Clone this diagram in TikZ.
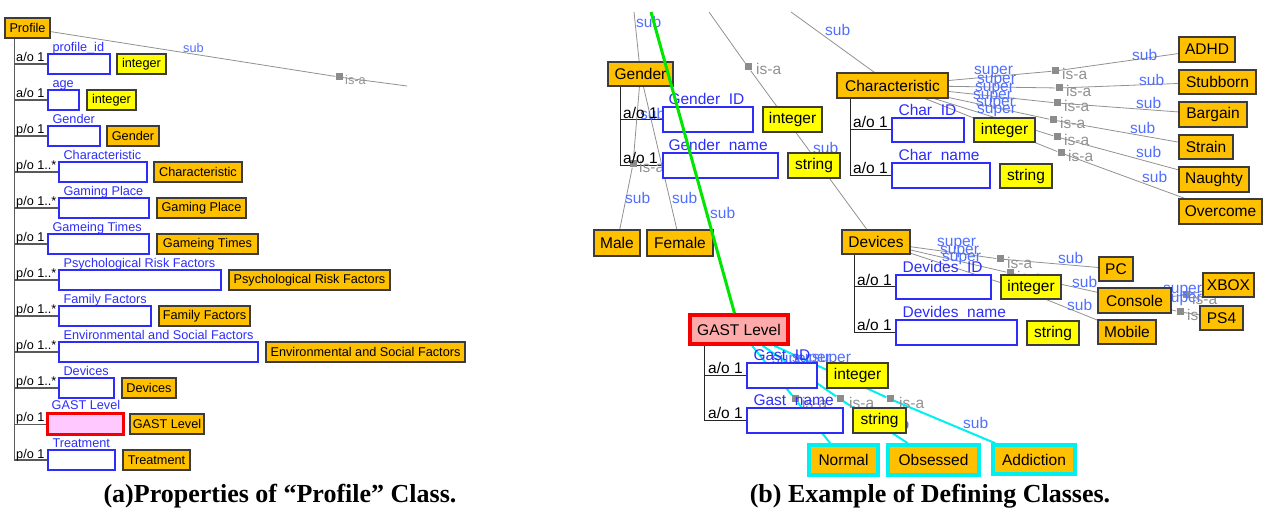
\documentclass[tikz,border=0pt]{standalone}
\usepackage{fontspec}
\setmainfont{Liberation Sans}
\newfontfamily\capfont{Liberation Serif}
\usetikzlibrary{backgrounds}
\definecolor{clsfill}{RGB}{255,192,0}
\definecolor{clsline}{RGB}{60,60,60}
\definecolor{typefill}{RGB}{255,255,0}
\definecolor{propblue}{RGB}{45,45,250}
\definecolor{relblue}{RGB}{80,110,255}
\definecolor{relgray}{RGB}{145,145,145}
\definecolor{gastpink}{RGB}{255,200,255}
\definecolor{gastrose}{RGB}{255,170,170}
\definecolor{selred}{RGB}{245,0,0}
\definecolor{selcyan}{RGB}{0,240,240}
\definecolor{selgreen}{RGB}{0,230,0}
\def\bx[#1](#2)(#3,#4,#5,#6)#7{\node[#1,minimum width=#5-#3,minimum height=#6-#4] (#2) at ({(#3+#5)/2},{(#4+#6)/2}) {#7};}

\begin{document}
\begin{tikzpicture}[x=1pt,y=-1pt,
    cls/.style={draw=clsline,fill=clsfill,line width=1.2pt,inner sep=0pt},
    dtype/.style={draw=clsline,fill=typefill,line width=1.2pt,inner sep=0pt},
    prop/.style={draw=propblue,fill=white,line width=1.3pt,inner sep=0pt},
    pinksel/.style={draw=selred,fill=gastpink,line width=3pt,inner sep=0pt},
    rosesel/.style={draw=selred,fill=gastrose,line width=3.5pt,inner sep=0pt},
    cyansel/.style={draw=selcyan,fill=clsfill,line width=3.5pt,inner sep=0pt},
    plbl/.style={text=propblue,anchor=base west,inner sep=0pt},
    card/.style={anchor=base west,inner sep=0pt},
    tree/.style={draw=black!65,line width=1.5pt},
    rtree/.style={draw=black!85,line width=1pt},
    rel/.style={draw=relgray,line width=0.8pt},
    cyanrel/.style={draw=selcyan,line width=2pt},
    isasq/.style={fill=black!45,minimum size=7pt,inner sep=0pt},
    sublbl/.style={text=relblue,anchor=west,inner sep=0pt},
    isalbl/.style={text=relgray,anchor=west,inner sep=0pt},
    caption/.style={font=\capfont\bfseries\fontsize{26}{30}\selectfont}]
\useasboundingbox (0,0) rectangle (1264,510);

%%%%% (a) properties of the profile class %%%%%
\begin{scope}[font=\fontsize{12.7}{15}\selectfont]
\bx[cls](profile)(5,18,50,38){Profile}
\coordinate (ptree) at ([xshift=10pt]profile.south west);
\coordinate (pout) at (407,86);

\bx[prop](pid)(48,54,110,74){}
\bx[dtype](pidt)(117,54,166,74){integer}
\bx[prop](page)(48,90,79,110){}
\bx[dtype](paget)(87,90,136,110){integer}
\bx[prop](pgen)(48,126,100,146){}
\bx[cls](pgent)(107,126,159,146){Gender}
\bx[prop](pchar)(59,162,147,182){}
\bx[cls](pchart)(154,162,242,182){Characteristic}
\bx[prop](pplace)(59,198,149,218){}
\bx[cls](pplacet)(157,198,246,218){Gaming Place}
\bx[prop](ptimes)(48,234,149,254){}
\bx[cls](ptimest)(157,234,258,254){Gameing Times}
\bx[prop](ppsy)(59,270,221,290){}
\bx[cls](ppsyt)(229,270,390,290){Psychological Risk Factors}
\bx[prop](pfam)(59,306,151,326){}
\bx[cls](pfamt)(159,306,250,326){Family Factors}
\bx[prop](penv)(59,342,258,362){}
\bx[cls](penvt)(266,342,465,362){Environmental and Social Factors}
\bx[prop](pdev)(59,378,114,398){}
\bx[cls](pdevt)(122,378,176,398){Devices}
\bx[pinksel](pgast)(47,414,123,435){}
\bx[cls](pgastt)(130,414,204,434){GAST Level}
\bx[prop](ptreat)(48,450,115,470){}
\bx[cls](ptreatt)(123,450,190,470){Treatment}

\node[plbl] (pidl) at ([xshift=5pt,yshift=2pt]pid.north west) {profile\_id};
\node[plbl] (pagel) at ([xshift=5pt,yshift=2pt]page.north west) {age};
\node[plbl] (pgenl) at ([xshift=5pt,yshift=2pt]pgen.north west) {Gender};
\node[plbl] (pcharl) at ([xshift=5pt,yshift=2pt]pchar.north west) {Characteristic};
\node[plbl] (pplacel) at ([xshift=5pt,yshift=2pt]pplace.north west) {Gaming Place};
\node[plbl] (ptimesl) at ([xshift=5pt,yshift=2pt]ptimes.north west) {Gameing Times};
\node[plbl] (ppsyl) at ([xshift=5pt,yshift=2pt]ppsy.north west) {Psychological Risk Factors};
\node[plbl] (pfaml) at ([xshift=5pt,yshift=2pt]pfam.north west) {Family Factors};
\node[plbl] (penvl) at ([xshift=5pt,yshift=2pt]penv.north west) {Environmental and Social Factors};
\node[plbl] (pdevl) at ([xshift=5pt,yshift=2pt]pdev.north west) {Devices};
\node[plbl] (pgastl) at ([xshift=6pt,yshift=3pt]pgast.north west) {GAST Level};
\node[plbl] (ptreatl) at ([xshift=5pt,yshift=2pt]ptreat.north west) {Treatment};

\node[card] (pidc) at (16,62) {a/o 1};
\node[card] (pagec) at (16,98) {a/o 1};
\node[card] (pgenc) at (16,134) {p/o 1};
\node[card] (pcharc) at (16,170) {p/o 1..*};
\node[card] (pplacec) at (16,206) {p/o 1..*};
\node[card] (ptimesc) at (16,242) {p/o 1};
\node[card] (ppsyc) at (16,278) {p/o 1..*};
\node[card] (pfamc) at (16,314) {p/o 1..*};
\node[card] (penvc) at (16,350) {p/o 1..*};
\node[card] (pdevc) at (16,386) {p/o 1..*};
\node[card] (pgastc) at (16,422) {p/o 1};
\node[card] (ptreatc) at (16,458) {p/o 1};

\begin{scope}[on background layer]
\draw[tree] (ptree) -- (ptree |- ptreat.west)
  (ptree |- pid.west) -- (pid.west) (ptree |- page.west) -- (page.west)
  (ptree |- pgen.west) -- (pgen.west) (ptree |- pchar.west) -- (pchar.west)
  (ptree |- pplace.west) -- (pplace.west) (ptree |- ptimes.west) -- (ptimes.west)
  (ptree |- ppsy.west) -- (ppsy.west) (ptree |- pfam.west) -- (pfam.west)
  (ptree |- penv.west) -- (penv.west) (ptree |- pdev.west) -- (pdev.west)
  (ptree |- pgast.west) -- (pgast.west) (ptree |- ptreat.west) -- (ptreat.west);
\node[isasq] (psq) at (339,77) {};
\draw[rel] (profile) -- (psq) -- (pout);
\node[sublbl] (psub) at (183,48) {sub};
\node[isalbl] (pisa) at (345,80) {is-a};
\end{scope}
\end{scope}

\node[caption] (capa) at (280,496) {(a)Properties of “Profile” Class.};

%%%%% (b) defining classes %%%%%
\begin{scope}[font=\fontsize{15.5}{18}\selectfont]
\coordinate (gsup) at (634,12);
\coordinate (greentop) at (651,12);
\coordinate (dsup) at (709,12);
\coordinate (csup) at (791,12);

% gender
\bx[cls](gender)(608,62,673,86){Gender}
\bx[prop](gid)(663,107,753,132){}
\bx[dtype](gidt)(763,107,822,132){integer}
\bx[prop](gname)(663,153,778,178){}
\bx[dtype](gnamet)(788,153,840,178){string}
\bx[cls](male)(594,230,640,256){Male}
\bx[cls](female)(647,230,713,256){Female}
\node[plbl] (gidl) at ([xshift=6pt,yshift=2pt]gid.north west) {Gender\_ID};
\node[plbl] (gnamel) at ([xshift=6pt,yshift=2pt]gname.north west) {Gender\_name};
\coordinate (gtree) at ([xshift=13pt]gender.south west);

% characteristic
\bx[cls](char)(837,73,948,98){Characteristic}
\bx[prop](cid)(892,118,964,142){}
\bx[dtype](cidt)(974,118,1035,142){integer}
\bx[prop](cname)(892,163,990,188){}
\bx[dtype](cnamet)(1000,164,1052,188){string}
\node[plbl] (cidl) at ([xshift=7pt,yshift=2pt]cid.north west) {Char\_ID};
\node[plbl] (cnamel) at ([xshift=7pt,yshift=2pt]cname.north west) {Char\_name};
\coordinate (ctree) at ([xshift=14pt]char.south west);
\bx[cls](adhd)(1179,37,1235,62){ADHD}
\bx[cls](stub)(1179,70,1256,94){Stubborn}
\bx[cls](barg)(1179,102,1247,127){Bargain}
\bx[cls](strain)(1179,135,1233,159){Strain}
\bx[cls](naughty)(1179,167,1249,192){Naughty}
\bx[cls](overcome)(1179,199,1262,224){Overcome}

% devices
\bx[cls](devices)(842,230,910,254){Devices}
\bx[prop](did)(896,275,991,299){}
\bx[dtype](didt)(1001,275,1061,299){integer}
\bx[prop](dname)(896,320,1017,345){}
\bx[dtype](dnamet)(1027,321,1079,345){string}
\node[plbl] (didl) at ([xshift=7pt,yshift=2pt]did.north west) {Devides\_ID};
\node[plbl] (dnamel) at ([xshift=7pt,yshift=2pt]dname.north west) {Devides\_name};
\coordinate (dtree) at ([xshift=13pt]devices.south west);
\bx[cls](pc)(1099,257,1133,281){PC}
\bx[cls](console)(1098,288,1171,313){Console}
\bx[cls](mobile)(1098,320,1156,344){Mobile}
\bx[cls](xbox)(1203,273,1254,297){XBOX}
\bx[cls](ps4)(1200,306,1243,330){PS4}

% gast level
\bx[rosesel](gast)(690,315,788,344){GAST Level}
\bx[prop](gsid)(747,363,817,388){}
\bx[dtype](gsidt)(827,363,888,388){integer}
\bx[prop](gsname)(747,408,843,433){}
\bx[dtype](gsnamet)(853,408,906,433){string}
\node[plbl] (gsidl) at ([xshift=7pt,yshift=2pt]gsid.north west) {Gast\_ID};
\node[plbl] (gsnamel) at ([xshift=7pt,yshift=2pt]gsname.north west) {Gast\_name};
\coordinate (gstree) at ([xshift=16pt]gast.south west);
\bx[cyansel](normal)(809,445,878,475){Normal}
\bx[cyansel](obsessed)(888,445,979,475){Obsessed}
\bx[cyansel](addiction)(993,445,1075,474){Addiction}

\node[card] (gidc) at (623,119) {a/o 1};
\node[card] (gnamec) at (623,164) {a/o 1};
\node[card] (cidc) at (853,128) {a/o 1};
\node[card] (cnamec) at (853,174) {a/o 1};
\node[card] (didc) at (857,286) {a/o 1};
\node[card] (dnamec) at (857,331) {a/o 1};
\node[card] (gsidc) at (708,374) {a/o 1};
\node[card] (gsnamec) at (708,419) {a/o 1};

\begin{scope}[on background layer]
\draw[rtree] (gtree) -- (gtree |- gname.west) (gtree |- gid.west) -- (gid.west)
  (gtree |- gname.west) -- (gname.west);
\draw[rtree] (ctree) -- (ctree |- cname.west) (ctree |- cid.west) -- (cid.west)
  (ctree |- cname.west) -- (cname.west);
\draw[rtree] (dtree) -- (dtree |- dname.west) (dtree |- did.west) -- (did.west)
  (dtree |- dname.west) -- (dname.west);
\draw[rtree] (gstree) -- (gstree |- gsname.west) (gstree |- gsid.west) -- (gsid.west)
  (gstree |- gsname.west) -- (gsname.west);

% links from above
\draw[rel] (gsup) -- (gender);
\node[sublbl] (gsupl) at (636,22) {sub};
\draw[rel] (csup) -- (char);
\node[sublbl] (csupl) at (825,30) {sub};
\node[isasq] (dsq0) at (748,67) {};
\draw[rel] (dsup) -- (dsq0) -- (devices);
\node[isalbl] (dsq0l) at (756,69) {is-a};
\node[sublbl] (dsupl) at (813,148) {sub};

% gender subclasses
\node[isasq] (gsq) at (633,164) {};
\draw[rel] (gender) -- (gsq) -- (male);
\draw[rel] (gender) -- (female);
\node[isalbl] (gsqlbl) at (639,167) {is-a};
\node[sublbl] (gsubx) at (640,114) {sub};
\node[sublbl] (gsubm) at (625,198) {sub};
\node[sublbl] (gsubf) at (672,198) {sub};
\node[sublbl] (gsubg) at (710,213) {sub};

% characteristic subclasses
\node[isasq] (csq1) at (1055,71) {};
\node[isasq] (csq2) at (1059,88) {};
\node[isasq] (csq3) at (1057,103) {};
\node[isasq] (csq4) at (1053,120) {};
\node[isasq] (csq5) at (1057,137) {};
\node[isasq] (csq6) at (1061,153) {};
\draw[rel] (char) -- (csq1) -- (adhd);
\draw[rel] (char) -- (csq2) -- (stub);
\draw[rel] (char) -- (csq3) -- (barg);
\draw[rel] (char) -- (csq4) -- (strain);
\draw[rel] (char) -- (csq5) -- (naughty);
\draw[rel] (char) -- (csq6) -- (overcome);
\node[sublbl] (csup1) at (974,72) {super};
\node[sublbl] (csup2) at (977,81) {super};
\node[sublbl] (csup3) at (975,89) {super};
\node[sublbl] (csup4) at (973,97) {super};
\node[sublbl] (csup5) at (976,104) {super};
\node[sublbl] (csup6) at (977,111) {super};
\node[isalbl] (cisa1) at (1062,74) {is-a};
\node[isalbl] (cisa2) at (1066,91) {is-a};
\node[isalbl] (cisa3) at (1064,106) {is-a};
\node[isalbl] (cisa4) at (1060,123) {is-a};
\node[isalbl] (cisa5) at (1064,140) {is-a};
\node[isalbl] (cisa6) at (1068,156) {is-a};
\node[sublbl] (csub1) at (1132,55) {sub};
\node[sublbl] (csub2) at (1139,80) {sub};
\node[sublbl] (csub3) at (1136,103) {sub};
\node[sublbl] (csub4) at (1130,128) {sub};
\node[sublbl] (csub5) at (1136,152) {sub};
\node[sublbl] (csub6) at (1142,177) {sub};

% devices subclasses
\node[isasq] (dsq1) at (1000,259) {};
\node[isasq] (dsq2) at (1010,273) {};
\node[isasq] (dsq3) at (1020,289) {};
\draw[rel] (devices) -- (dsq1) -- (pc);
\draw[rel] (devices) -- (dsq2) -- (console);
\draw[rel] (devices) -- (dsq3) -- (mobile);
\node[sublbl] (dsup1) at (937,244) {super};
\node[sublbl] (dsup2) at (940,252) {super};
\node[sublbl] (dsup3) at (942,259) {super};
\node[isalbl] (disa1) at (1007,263) {is-a};
\node[isalbl] (disa2) at (1017,277) {is-a};
\node[sublbl] (dsub1) at (1058,258) {sub};
\node[sublbl] (dsub2) at (1072,282) {sub};
\node[sublbl] (dsub3) at (1067,305) {sub};
\node[isasq] (xsq1) at (1186,295) {};
\node[isasq] (xsq2) at (1180,312) {};
\draw[rel] (console) -- (xsq1) -- (xbox);
\draw[rel] (console) -- (xsq2) -- (ps4);
\node[sublbl] (xsup1) at (1163,291) {super};
\node[sublbl] (xsup2) at (1163,300) {super};
\node[isalbl] (xisa1) at (1192,299) {is-a};
\node[isalbl] (xisa2) at (1187,315) {is-a};

% gast level subclasses
\node[isasq] (nsq) at (795,399) {};
\node[isasq] (osq) at (840,399) {};
\node[isasq] (asq) at (890,399) {};
\draw[cyanrel] (gast) -- (nsq) -- (normal);
\draw[cyanrel] (gast) -- (osq) -- (obsessed);
\draw[cyanrel] (gast) -- (asq) -- (addiction);
\node[sublbl] (gssup1) at (772,361) {super};
\node[sublbl] (gssup2) at (792,360) {super};
\node[sublbl] (gssup3) at (812,360) {super};
\node[isalbl] (nisa) at (802,403) {is-a};
\node[isalbl] (oisa) at (849,403) {is-a};
\node[isalbl] (aisa) at (899,403) {is-a};
\node[sublbl] (osub) at (884,424) {sub};
\node[sublbl] (asub) at (963,423) {sub};
\end{scope}
\end{scope}

\draw[selgreen,line width=3pt] (greentop) -- (gast);

\node[caption] (capb) at (930,496) {(b) Example of Defining Classes.};
\end{tikzpicture}
\end{document}
